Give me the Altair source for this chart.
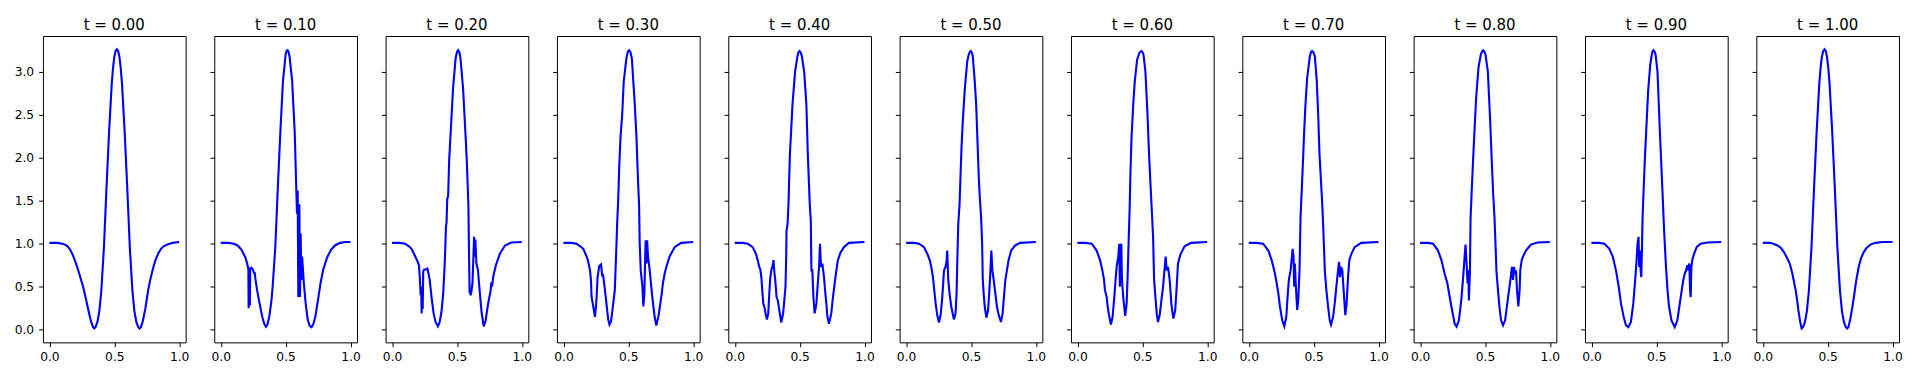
import altair as alt
import pandas as pd

TIMES = ["0.00", "0.10", "0.20", "0.30", "0.40", "0.50", "0.60", "0.70", "0.80", "0.90", "1.00"]

X_T00 = [0, 0.06, 0.10, 0.12, 0.14, 0.16, 0.18, 0.20, 0.22, 0.24,
         0.26, 0.28, 0.30, 0.32, 0.335, 0.345, 0.355, 0.37, 0.385, 0.40,
         0.42, 0.44, 0.46, 0.48, 0.49, 0.50, 0.51, 0.52, 0.53, 0.54, 0.55, 0.56, 0.58, 0.60,
         0.62, 0.64, 0.655, 0.67, 0.685, 0.695, 0.705, 0.72, 0.74, 0.76,
         0.78, 0.80, 0.82, 0.84, 0.86, 0.88, 0.91, 0.95, 1.0]
Y_T00 = [1.01, 1.01, 1.00, 0.99, 0.97, 0.93, 0.87, 0.79, 0.70, 0.60,
         0.50, 0.37, 0.23, 0.10, 0.035, 0.015, 0.03, 0.09, 0.22, 0.45,
         0.95, 1.65, 2.30, 2.85, 3.04, 3.17, 3.24, 3.26, 3.24, 3.17, 3.04, 2.85, 2.30, 1.65,
         0.95, 0.45, 0.22, 0.09, 0.03, 0.015, 0.03, 0.10, 0.25, 0.45,
         0.60, 0.72, 0.82, 0.89, 0.94, 0.97, 0.99, 1.01, 1.02]

X_T01 = [0, 0.06, 0.10, 0.13, 0.16, 0.19, 0.205, 0.213, 0.215, 0.218,
         0.222, 0.224, 0.227, 0.235, 0.248, 0.256, 0.262, 0.268, 0.28, 0.30,
         0.32, 0.335, 0.348, 0.36, 0.375, 0.39, 0.40, 0.42, 0.44, 0.46,
         0.48, 0.50, 0.507, 0.514, 0.521, 0.53, 0.55, 0.57, 0.583, 0.588, 0.593, 0.598,
         0.606, 0.611, 0.616, 0.621, 0.627, 0.64, 0.655, 0.67, 0.685, 0.70,
         0.715, 0.73, 0.75, 0.77, 0.79, 0.82, 0.85, 0.88, 0.92, 0.96, 1.0]
Y_T01 = [1.01, 1.01, 1.00, 0.98, 0.93, 0.84, 0.76, 0.70, 0.25, 0.72,
         0.70, 0.28, 0.70, 0.72, 0.70, 0.66, 0.66, 0.58, 0.46, 0.30,
         0.15, 0.07, 0.035, 0.06, 0.16, 0.33, 0.50, 0.95, 1.65, 2.32,
         2.90, 3.20, 3.24, 3.25, 3.24, 3.18, 2.90, 2.30, 1.60, 1.35, 1.62, 0.38,
         1.46, 0.38, 1.12, 0.58, 0.85, 0.55, 0.30, 0.12, 0.045, 0.03,
         0.07, 0.16, 0.35, 0.55, 0.70, 0.84, 0.93, 0.98, 1.01, 1.02, 1.02]

X_T02 = [0, 0.06, 0.10, 0.13, 0.15, 0.176, 0.194, 0.20, 0.207, 0.215,
         0.22, 0.224, 0.228, 0.232, 0.236, 0.24, 0.248, 0.26, 0.272, 0.28,
         0.29, 0.304, 0.32, 0.335, 0.353, 0.365, 0.38, 0.394, 0.405, 0.41,
         0.415, 0.42, 0.425, 0.432, 0.44, 0.45, 0.47, 0.49, 0.50, 0.509, 0.518, 0.527,
         0.547, 0.567, 0.573, 0.577, 0.588, 0.593, 0.598, 0.603, 0.606, 0.612,
         0.62, 0.628, 0.632, 0.637, 0.642, 0.65, 0.662, 0.675, 0.69, 0.706,
         0.72, 0.74, 0.76, 0.765, 0.77, 0.78, 0.80, 0.83, 0.87, 0.92, 1.0]
Y_T02 = [1.01, 1.01, 1.00, 0.97, 0.94, 0.86, 0.80, 0.78, 0.75, 0.58,
         0.40, 0.50, 0.19, 0.45, 0.24, 0.68, 0.70, 0.70, 0.71, 0.66,
         0.58, 0.38, 0.19, 0.09, 0.04, 0.08, 0.20, 0.42, 0.75, 0.94,
         1.20, 1.25, 1.52, 1.55, 1.97, 2.25, 2.81, 3.16, 3.23, 3.25, 3.23, 3.16,
         2.81, 2.24, 2.05, 1.92, 1.46, 0.88, 0.42, 0.44, 0.40, 0.45,
         0.55, 0.90, 1.08, 0.85, 1.05, 0.77, 0.69, 0.45, 0.20, 0.04,
         0.10, 0.30, 0.46, 0.55, 0.50, 0.62, 0.75, 0.88, 0.98, 1.015, 1.02]

X_T03 = [0, 0.06, 0.10, 0.13, 0.153, 0.179, 0.19, 0.205, 0.212, 0.217,
         0.23, 0.243, 0.25, 0.256, 0.263, 0.276, 0.29, 0.299, 0.305, 0.32,
         0.332, 0.345, 0.355, 0.367, 0.378, 0.396, 0.409, 0.414, 0.422, 0.43,
         0.44, 0.453, 0.465, 0.486, 0.496, 0.506, 0.516, 0.527, 0.55, 0.563, 0.575, 0.583,
         0.588, 0.596, 0.609, 0.616, 0.624, 0.629, 0.634, 0.639, 0.645, 0.652,
         0.665, 0.685, 0.703, 0.716, 0.734, 0.754, 0.767, 0.78, 0.793, 0.818,
         0.857, 0.908, 1.0]
Y_T03 = [1.01, 1.01, 1.00, 0.97, 0.94, 0.85, 0.80, 0.69, 0.58, 0.38,
         0.27, 0.15, 0.26, 0.38, 0.61, 0.74, 0.76, 0.62, 0.65, 0.46,
         0.30, 0.12, 0.06, 0.10, 0.23, 0.46, 1.00, 1.23, 1.50, 1.89,
         2.24, 2.50, 2.89, 3.16, 3.23, 3.25, 3.23, 3.16, 2.62, 2.24, 1.73, 1.46,
         1.00, 0.69, 0.50, 0.27, 0.42, 0.77, 1.04, 0.77, 1.04, 0.85,
         0.69, 0.38, 0.15, 0.05, 0.17, 0.38, 0.54, 0.65, 0.73, 0.85,
         0.96, 1.01, 1.02]

X_T04 = [0, 0.06, 0.10, 0.138, 0.164, 0.176, 0.189, 0.197, 0.205, 0.21,
         0.22, 0.228, 0.24, 0.248, 0.258, 0.266, 0.274, 0.284, 0.292, 0.299,
         0.304, 0.312, 0.322, 0.332, 0.343, 0.358, 0.373, 0.384, 0.391, 0.396,
         0.399, 0.407, 0.414, 0.419, 0.425, 0.432, 0.445, 0.465, 0.483, 0.491, 0.499,
         0.508, 0.517, 0.535, 0.552, 0.563, 0.568, 0.578, 0.586, 0.591, 0.598, 0.606,
         0.616, 0.629, 0.642, 0.65, 0.657, 0.665, 0.675, 0.688, 0.696, 0.706,
         0.714, 0.726, 0.744, 0.757, 0.77, 0.783, 0.795, 0.816, 0.841, 0.88, 1.0]
Y_T04 = [1.01, 1.01, 1.00, 0.96, 0.88, 0.81, 0.73, 0.70, 0.61, 0.50,
         0.30, 0.27, 0.17, 0.12, 0.19, 0.42, 0.61, 0.71, 0.75, 0.81,
         0.69, 0.58, 0.38, 0.34, 0.23, 0.085, 0.19, 0.38, 0.50, 0.81,
         1.15, 1.23, 1.46, 1.73, 2.04, 2.24, 2.62, 3.00, 3.18, 3.225, 3.24,
         3.225, 3.18, 3.00, 2.62, 2.04, 1.85, 1.46, 1.27, 0.69, 0.69, 0.38,
         0.19, 0.30, 0.58, 0.73, 1.00, 0.73, 0.77, 0.61, 0.46, 0.30,
         0.15, 0.07, 0.19, 0.38, 0.54, 0.69, 0.81, 0.90, 0.96, 1.01, 1.02]

X_T05 = [0, 0.06, 0.10, 0.138, 0.164, 0.182, 0.194, 0.207, 0.217, 0.228,
         0.24, 0.253, 0.266, 0.279, 0.292, 0.304, 0.312, 0.317, 0.322, 0.325,
         0.335, 0.348, 0.368, 0.381, 0.389, 0.396, 0.402, 0.412, 0.419, 0.427,
         0.437, 0.453, 0.471, 0.483, 0.491, 0.499, 0.507, 0.514, 0.529, 0.54, 0.552, 0.56,
         0.568, 0.578, 0.586, 0.591, 0.598, 0.606, 0.619, 0.632, 0.642, 0.65,
         0.657, 0.665, 0.675, 0.688, 0.70, 0.714, 0.731, 0.744, 0.754, 0.765,
         0.777, 0.79, 0.81, 0.841, 0.88, 1.0]
Y_T05 = [1.01, 1.01, 1.00, 0.96, 0.88, 0.81, 0.73, 0.61, 0.46, 0.30,
         0.17, 0.085, 0.17, 0.38, 0.69, 0.73, 0.80, 0.92, 0.70, 0.58,
         0.42, 0.27, 0.12, 0.19, 0.42, 0.88, 1.23, 1.46, 1.77, 2.12,
         2.43, 2.81, 3.12, 3.20, 3.23, 3.24, 3.22, 3.18, 2.89, 2.62, 2.12, 1.77,
         1.54, 1.31, 1.00, 0.58, 0.42, 0.27, 0.14, 0.23, 0.46, 0.69,
         0.92, 0.69, 0.58, 0.42, 0.27, 0.17, 0.09, 0.19, 0.38, 0.58,
         0.69, 0.81, 0.92, 0.98, 1.01, 1.02]

X_T06 = [0, 0.06, 0.11, 0.148, 0.174, 0.192, 0.205, 0.212, 0.225, 0.233,
         0.243, 0.258, 0.271, 0.284, 0.294, 0.302, 0.315, 0.322, 0.327, 0.332,
         0.338, 0.343, 0.353, 0.368, 0.379, 0.386, 0.394, 0.402, 0.409, 0.417,
         0.43, 0.442, 0.46, 0.478, 0.486, 0.494, 0.502, 0.509, 0.524, 0.54, 0.552, 0.563,
         0.573, 0.583, 0.591, 0.601, 0.611, 0.621, 0.634, 0.647, 0.66, 0.673,
         0.68, 0.688, 0.698, 0.711, 0.724, 0.739, 0.754, 0.765, 0.775, 0.795,
         0.826, 0.877, 1.0]
Y_T06 = [1.01, 1.01, 1.00, 0.92, 0.81, 0.69, 0.58, 0.46, 0.38, 0.27,
         0.17, 0.06, 0.15, 0.38, 0.58, 0.73, 0.85, 1.00, 0.50, 0.92,
         1.00, 0.58, 0.38, 0.16, 0.30, 0.58, 1.00, 1.39, 1.85, 2.24,
         2.62, 2.89, 3.14, 3.22, 3.235, 3.24, 3.225, 3.20, 3.00, 2.50, 2.04, 1.69,
         1.39, 1.08, 0.58, 0.38, 0.19, 0.09, 0.17, 0.34, 0.50, 0.73,
         0.85, 0.69, 0.73, 0.58, 0.30, 0.13, 0.23, 0.50, 0.77, 0.88,
         0.97, 1.01, 1.02]

X_T07 = [0, 0.06, 0.11, 0.151, 0.176, 0.202, 0.215, 0.228, 0.24, 0.258,
         0.274, 0.289, 0.299, 0.309, 0.322, 0.33, 0.338, 0.345, 0.35, 0.355,
         0.363, 0.373, 0.381, 0.391, 0.399, 0.407, 0.417, 0.427, 0.437, 0.45,
         0.471, 0.479, 0.488, 0.498, 0.509, 0.524, 0.535, 0.545, 0.555, 0.565, 0.575, 0.586,
         0.598, 0.611, 0.624, 0.634, 0.65, 0.662, 0.675, 0.688, 0.696, 0.703,
         0.711, 0.721, 0.731, 0.744, 0.754, 0.765, 0.775, 0.79, 0.816, 0.867, 1.0]
Y_T07 = [1.01, 1.01, 1.00, 0.92, 0.81, 0.65, 0.54, 0.42, 0.27, 0.11,
         0.04, 0.15, 0.38, 0.58, 0.69, 0.81, 0.94, 0.85, 0.50, 0.77,
         0.50, 0.23, 0.34, 0.69, 1.31, 1.58, 1.93, 2.31, 2.62, 2.93,
         3.18, 3.225, 3.24, 3.225, 3.18, 2.89, 2.50, 2.04, 1.77, 1.50, 1.15, 0.69,
         0.46, 0.27, 0.11, 0.06, 0.15, 0.30, 0.50, 0.69, 0.79, 0.61,
         0.73, 0.69, 0.46, 0.17, 0.30, 0.61, 0.81, 0.88, 0.96, 1.01, 1.02]

X_T08 = [0, 0.06, 0.10, 0.138, 0.164, 0.189, 0.21, 0.228, 0.246, 0.266,
         0.281, 0.299, 0.317, 0.33, 0.343, 0.35, 0.358, 0.366, 0.371, 0.376,
         0.384, 0.389, 0.399, 0.409, 0.419, 0.432, 0.45, 0.468, 0.477, 0.486, 0.495, 0.504,
         0.522, 0.54, 0.552, 0.563, 0.573, 0.581, 0.588, 0.598, 0.611, 0.624,
         0.639, 0.655, 0.675, 0.696, 0.708, 0.716, 0.724, 0.731, 0.739, 0.747,
         0.757, 0.767, 0.772, 0.783, 0.793, 0.816, 0.854, 0.905, 1.0]
Y_T08 = [1.01, 1.01, 1.00, 0.92, 0.81, 0.65, 0.54, 0.38, 0.23, 0.07,
         0.035, 0.11, 0.34, 0.58, 0.85, 0.99, 0.77, 0.54, 0.69, 0.34,
         0.69, 1.31, 1.66, 2.00, 2.31, 2.70, 3.05, 3.20, 3.235, 3.25, 3.235, 3.20,
         3.00, 2.43, 1.97, 1.58, 1.31, 1.00, 0.69, 0.50, 0.27, 0.11,
         0.05, 0.11, 0.34, 0.58, 0.73, 0.58, 0.73, 0.65, 0.69, 0.46,
         0.27, 0.46, 0.69, 0.81, 0.85, 0.92, 0.99, 1.015, 1.02]

X_T09 = [0, 0.06, 0.10, 0.138, 0.164, 0.189, 0.21, 0.228, 0.248, 0.266,
         0.284, 0.304, 0.322, 0.335, 0.348, 0.355, 0.363, 0.368, 0.373, 0.379,
         0.384, 0.389, 0.394, 0.402, 0.412, 0.422, 0.437, 0.453, 0.465, 0.471, 0.478,
         0.486, 0.494, 0.509, 0.529, 0.547, 0.56, 0.573, 0.586, 0.598, 0.616, 0.642,
         0.662, 0.688, 0.708, 0.719, 0.729, 0.739, 0.747, 0.754, 0.76, 0.765,
         0.77, 0.777, 0.79, 0.811, 0.841, 0.893, 1.0]
Y_T09 = [1.01, 1.01, 1.00, 0.94, 0.85, 0.69, 0.50, 0.30, 0.15, 0.05,
         0.03, 0.09, 0.30, 0.54, 0.81, 1.00, 1.08, 0.73, 0.92, 0.69,
         0.61, 0.92, 1.31, 1.62, 2.00, 2.31, 2.78, 3.08, 3.20, 3.235, 3.25,
         3.235, 3.20, 3.00, 2.24, 1.62, 1.15, 0.77, 0.46, 0.27, 0.11, 0.03,
         0.11, 0.38, 0.58, 0.65, 0.69, 0.75, 0.69, 0.77, 0.46, 0.38,
         0.73, 0.81, 0.88, 0.96, 1.00, 1.015, 1.02]

X_T10 = [0, 0.06, 0.113, 0.14, 0.164, 0.185, 0.202, 0.215, 0.228, 0.24,
         0.253, 0.264, 0.274, 0.287, 0.299, 0.31, 0.325, 0.34, 0.355, 0.375,
         0.395, 0.415, 0.435, 0.445, 0.455, 0.466, 0.476, 0.486, 0.495, 0.505, 0.515, 0.535, 0.555, 0.575,
         0.595, 0.61, 0.625, 0.64, 0.65, 0.66, 0.675, 0.69, 0.706, 0.72,
         0.739, 0.757, 0.777, 0.80, 0.829, 0.87, 0.92, 1.0]
Y_T10 = [1.01, 1.01, 0.98, 0.95, 0.90, 0.84, 0.79, 0.73, 0.65, 0.56,
         0.46, 0.35, 0.23, 0.10, 0.015, 0.03, 0.09, 0.22, 0.45, 0.95,
         1.65, 2.30, 2.85, 3.04, 3.17, 3.24, 3.26, 3.24, 3.17, 3.04, 2.85, 2.30, 1.65, 0.95,
         0.45, 0.22, 0.09, 0.03, 0.015, 0.03, 0.13, 0.26, 0.42, 0.57,
         0.73, 0.83, 0.90, 0.95, 0.99, 1.01, 1.02, 1.02]

SERIES_X = [X_T00, X_T01, X_T02, X_T03, X_T04, X_T05, X_T06, X_T07, X_T08, X_T09, X_T10]
SERIES_Y = [Y_T00, Y_T01, Y_T02, Y_T03, Y_T04, Y_T05, Y_T06, Y_T07, Y_T08, Y_T09, Y_T10]

X_TICKS = [0.0, 0.5, 1.0]
Y_TICKS = [0.0, 0.5, 1.0, 1.5, 2.0, 2.5, 3.0]

FONT = "DejaVu Sans"

charts = []
for k, (t, xs, ys) in enumerate(zip(TIMES, SERIES_X, SERIES_Y)):
    if len(xs) != len(ys):
        raise ValueError(f"length mismatch in panel {t}: {len(xs)} vs {len(ys)}")
    df = pd.DataFrame({"x": xs, "y": ys, "i": list(range(len(xs)))})
    c = (
        alt.Chart(
            df,
            title=alt.Title(
                f"t = {t}", anchor="middle", frame="group",
                font=FONT, fontSize=15, fontWeight="normal", color="black", offset=3.3,
            ),
        )
        .mark_line(color="#0000ff", strokeWidth=2.1)
        .encode(
            x=alt.X("x:Q",
                    scale=alt.Scale(domain=[-0.05, 1.05], nice=False, zero=False),
                    axis=alt.Axis(values=X_TICKS, format=".1f", title=None,
                                  labelFont=FONT, labelFontSize=12.3)),
            y=alt.Y("y:Q",
                    scale=alt.Scale(domain=[-0.147, 3.415], nice=False, zero=False),
                    axis=alt.Axis(values=Y_TICKS, format=".1f", title=None, labels=(k == 0),
                                  labelFont=FONT, labelFontSize=12.3)),
            order=alt.Order("i:Q"),
        )
        .properties(width=143, height=307)
    )
    charts.append(c)

chart = (
    alt.hconcat(*charts, spacing=28.7, bounds="flush")
    .properties(padding={"left": 5, "top": 8.7, "right": 5, "bottom": 5}, background="white")
    .configure_view(stroke="black", strokeWidth=1)
    .configure_axis(
        grid=False,
        domain=False,
        ticks=True,
        tickColor="black",
        tickWidth=1,
        tickSize=4.3,
        labelColor="black",
        labelPadding=4,
        labelFlush=False,
        labelOverlap=False,
    )
    .configure_axisY(labelPadding=5)
)

chart.save("out.html", embed_options={"renderer": "svg", "actions": False})
